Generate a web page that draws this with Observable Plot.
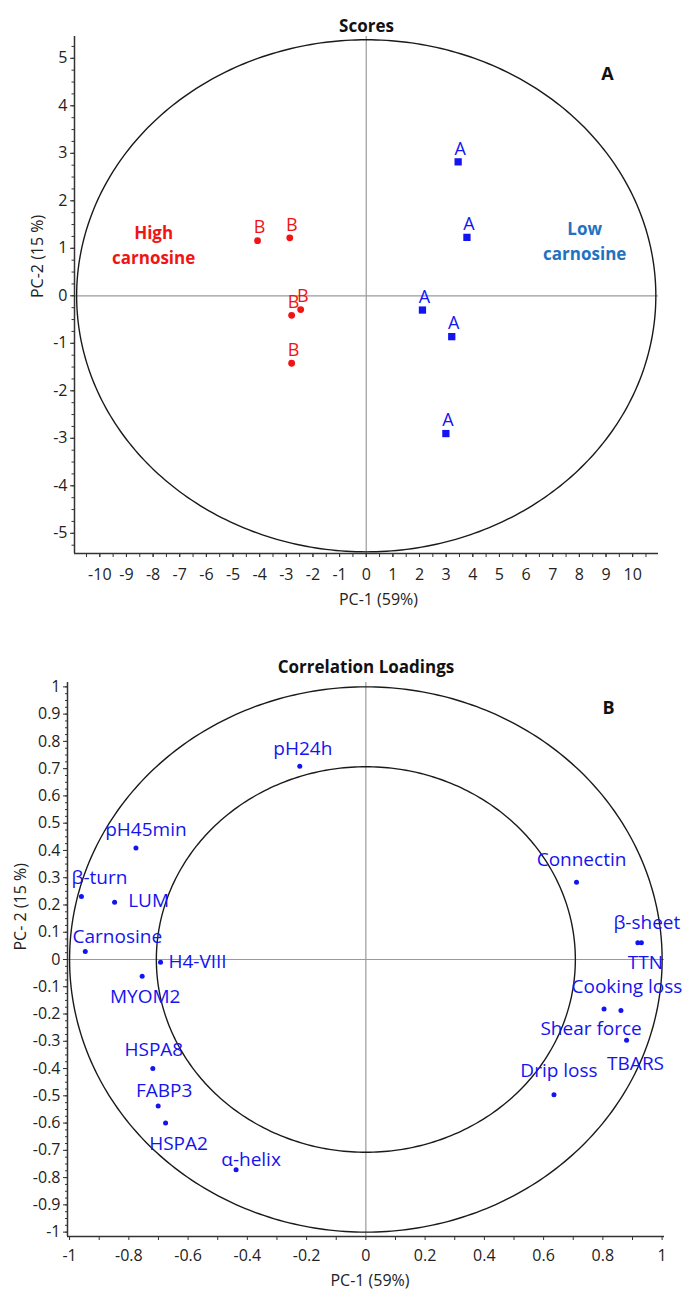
<!DOCTYPE html>
<html><head><meta charset="utf-8">
<script src="https://cdn.jsdelivr.net/npm/d3@7"></script>
<script src="https://cdn.jsdelivr.net/npm/@observablehq/plot@0.6"></script>
<style>
body{margin:0;background:#fff;}
#chart svg{display:block;}
</style></head><body><div id="chart"></div>
<script>
// ---------- Scores (panel A) ----------
const scoreGroups = ["B","B","B","B","B","A","A","A","A","A"];
const scorePC1 = [-4.08,-2.87,-2.46,-2.80,-2.80,3.45,3.78,2.11,3.21,2.99];
const scorePC2 = [1.16,1.22,-0.29,-0.41,-1.42,2.82,1.23,-0.30,-0.86,-2.90];
const groupLabels = ["High\ncarnosine","Low\ncarnosine"];
const groupLabelPC1 = [-7.98, 8.2];
const groupLabelPC2 = [1.11, 1.19];
const scoresXTicks = [-10,-9,-8,-7,-6,-5,-4,-3,-2,-1,0,1,2,3,4,5,6,7,8,9,10];
const scoresYTicks = [-5,-4,-3,-2,-1,0,1,2,3,4,5];
const scoresEllipseA = 10.87, scoresEllipseB = 5.39;
const scoresXDomain = [-10.95, 10.97];
const scoresYDomain = [-5.425, 5.459];

// ---------- Correlation loadings (panel B) ----------
const loadingNames = ["pH24h","pH45min","β-turn","LUM","Carnosine","H4-VIII","MYOM2","HSPA8","FABP3","HSPA2","α-helix","Connectin","β-sheet","TTN","Cooking loss","Shear force","TBARS","Drip loss"];
const loadingPC1 = [-0.223,-0.776,-0.96,-0.848,-0.947,-0.693,-0.755,-0.719,-0.701,-0.676,-0.438,0.711,0.918,0.93,0.861,0.804,0.880,0.635];
const loadingPC2 = [0.709,0.409,0.231,0.21,0.029,-0.01,-0.061,-0.40,-0.537,-0.600,-0.771,0.283,0.061,0.061,-0.187,-0.182,-0.296,-0.496];
const loadingsXTicks = [-1,-0.8,-0.6,-0.4,-0.2,0,0.2,0.4,0.6,0.8,1];
const loadingsXMinor = [-0.9,-0.7,-0.5,-0.3,-0.1,0.1,0.3,0.5,0.7,0.9];
const loadingsYTicks = [-1,-0.9,-0.8,-0.7,-0.6,-0.5,-0.4,-0.3,-0.2,-0.1,0,0.1,0.2,0.3,0.4,0.5,0.6,0.7,0.8,0.9,1];
const loadingsCircleRadii = [1, 0.7071];
const loadingsXDomain = [-1.007, 1.008];
const loadingsYDomain = [-1.016, 1.016];

// ---------- styling / layout ----------
const FONT = "'Open Sans', sans-serif";
const RED = "#f01414";
const BLUE = "#1414f0";
const LOWBLUE = "#1f72c2";
const AXIS = "#333";
// label offsets (px) for loading labels relative to their dot
const loadingLabelOffset = {
  "pH24h":[3,-17], "pH45min":[10,-18], "β-turn":[18,-19], "LUM":[34,-1],
  "Carnosine":[32,-15], "H4-VIII":[37,0], "MYOM2":[3,21], "HSPA8":[1,-19],
  "FABP3":[6,-15], "HSPA2":[13,21], "α-helix":[15,-10], "Connectin":[5,-22],
  "β-sheet":[9,-20], "TTN":[4,20], "Cooking loss":[6,-24], "Shear force":[-13,20],
  "TBARS":[9,24], "Drip loss":[5,-24]
};

function ellipsePoints(a, b) {
  return d3.range(0, 361, 1).map(t => ({x: a*Math.cos(t*Math.PI/180), y: b*Math.sin(t*Math.PI/180)}));
}
const fmt = d => String(d);

// ----- Panel A -----
const scores = scorePC1.map((x,i) => ({pc1:x, pc2:scorePC2[i], group:scoreGroups[i]}));
const groupText = groupLabels.map((t,i) => ({t, pc1:groupLabelPC1[i], pc2:groupLabelPC2[i], c: i===0?RED:LOWBLUE}));
const scoresMinorX = d3.range(-10.5, 10.6, 0.5);
const scoresMinorY = d3.range(-5.25, 5.3, 0.25);

const chartA = Plot.plot({
  width: 694, height: 630,
  marginTop: 36, marginBottom: 77, marginLeft: 74, marginRight: 36,
  style: {fontFamily: FONT, fontSize: "16px", color: "#222", background: "white", overflow: "visible"},
  x: {domain: scoresXDomain, label: null},
  y: {domain: scoresYDomain, label: null},
  marks: [
    Plot.ruleX([0], {stroke: "#9a9a9a", strokeWidth: 1.2}),
    Plot.ruleY([0], {stroke: "#9a9a9a", strokeWidth: 1.2}),
    Plot.line(ellipsePoints(scoresEllipseA, scoresEllipseB), {x:"x", y:"y", stroke:"#1a1a1a", strokeWidth:1.4}),
    Plot.axisX({ticks: scoresMinorX, tickSize: 4, tickFormat: () => "", stroke: AXIS}),
    Plot.axisX({ticks: scoresXTicks, tickSize: 4, tickPadding: 11, tickFormat: fmt, fontSize: 16, stroke: AXIS}),
    Plot.axisY({ticks: scoresMinorY, tickSize: 2.5, tickFormat: () => "", stroke: AXIS}),
    Plot.axisY({ticks: scoresYTicks, tickSize: 4, tickPadding: 3, tickFormat: fmt, fontSize: 16, stroke: AXIS}),
    Plot.ruleX([scoresXDomain[0]], {stroke: AXIS, strokeWidth: 1.5}),
    Plot.ruleY([scoresYDomain[0]], {stroke: AXIS, strokeWidth: 1.5}),
    Plot.dot(scores.filter(d => d.group === "B"), {x:"pc1", y:"pc2", r:3.4, fill: RED, stroke: "none"}),
    Plot.dot(scores.filter(d => d.group === "A"), {x:"pc1", y:"pc2", r:4.1, symbol:"square", fill: BLUE, stroke: "none"}),
    Plot.text(scores, {x:"pc1", y:"pc2", text:"group", dx:2, dy:-13, fontSize:18, fill: d => d.group === "B" ? RED : BLUE}),
    Plot.text(groupText, {x:"pc1", y:"pc2", text:"t", fill:"c", fontSize:17, fontWeight:"bold", lineHeight:1.5}),
    Plot.text(["Scores"], {text: d => d, frameAnchor:"top", dy:-17, fontSize:17, fontWeight:"bold", fill:"#111"}),
    Plot.text(["A"], {text: d => d, frameAnchor:"top-right", textAnchor:"middle", dx:-51, dy:31, fontSize:18, fontWeight:"bold", fill:"#111"}),
    Plot.text(["PC-1 (59%)"], {text: d => d, frameAnchor:"bottom", dx:12, dy:51, fontSize:16, fill:"#222"}),
    Plot.text(["PC-2 (15 %)"], {text: d => d, frameAnchor:"left", rotate:-90, dx:-37, dy:3, fontSize:16, fill:"#222"})
  ]
});

// ----- Panel B -----
const loadings = loadingNames.map((n,i) => ({name:n, pc1:loadingPC1[i], pc2:loadingPC2[i]}));
const loadingsYMinor = d3.range(-1, 1.001, 0.025);
const labelMarks = loadings.map(d => Plot.text([d], {
  x:"pc1", y:"pc2", text:"name", dx: loadingLabelOffset[d.name][0], dy: loadingLabelOffset[d.name][1],
  fontSize: 19, fill: BLUE
}));

const chartB = Plot.plot({
  width: 694, height: 678,
  marginTop: 52, marginBottom: 72, marginLeft: 67, marginRight: 30,
  style: {fontFamily: FONT, fontSize: "16px", color: "#222", background: "white", overflow: "visible"},
  x: {domain: loadingsXDomain, label: null},
  y: {domain: loadingsYDomain, label: null},
  marks: [
    Plot.ruleX([0], {stroke: "#9a9a9a", strokeWidth: 1.2}),
    Plot.ruleY([0], {stroke: "#9a9a9a", strokeWidth: 1.2}),
    ...loadingsCircleRadii.map(r => Plot.line(ellipsePoints(r, r), {x:"x", y:"y", stroke:"#1a1a1a", strokeWidth:1.4})),
    Plot.axisX({ticks: loadingsXMinor, tickSize: 4, tickFormat: () => "", stroke: AXIS}),
    Plot.axisX({ticks: loadingsXTicks, tickSize: 4, tickPadding: 9, tickFormat: fmt, fontSize: 16, stroke: AXIS}),
    Plot.axisY({ticks: loadingsYMinor, tickSize: 2, tickFormat: () => "", stroke: AXIS}),
    Plot.axisY({ticks: loadingsYTicks, tickSize: 4, tickPadding: 3, tickFormat: fmt, fontSize: 16, stroke: AXIS}),
    Plot.ruleX([loadingsXDomain[0]], {stroke: AXIS, strokeWidth: 1.5}),
    Plot.ruleY([loadingsYDomain[0]], {stroke: AXIS, strokeWidth: 1.5}),
    Plot.dot(loadings, {x:"pc1", y:"pc2", r:2.5, fill: BLUE, stroke:"none"}),
    ...labelMarks,
    Plot.text(["Correlation Loadings"], {text: d => d, frameAnchor:"top", dy:-22, fontSize:17, fontWeight:"bold", fill:"#111"}),
    Plot.text(["B"], {text: d => d, frameAnchor:"top-right", textAnchor:"middle", dx:-56, dy:19, fontSize:18, fontWeight:"bold", fill:"#111"}),
    Plot.text(["PC-1 (59%)"], {text: d => d, frameAnchor:"bottom", dx:4, dy:49, fontSize:16, fill:"#222"}),
    Plot.text(["PC- 2 (15 %)"], {text: d => d, frameAnchor:"left", rotate:-90, dx:-47, dy:-9, fontSize:16, fill:"#222"})
  ]
});

document.getElementById("chart").append(chartA, chartB);
</script>
</body></html>
